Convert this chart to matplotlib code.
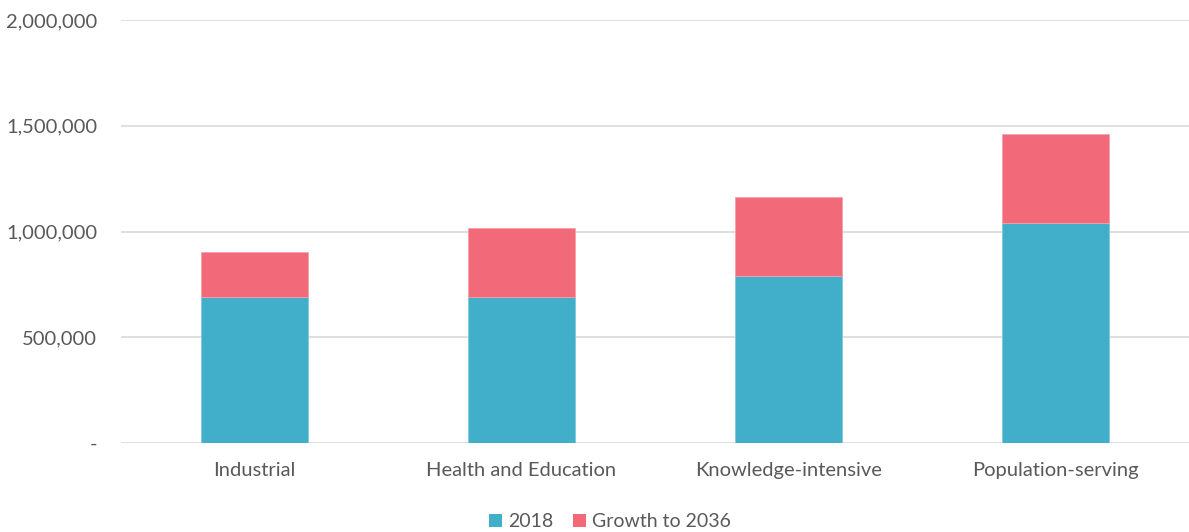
import matplotlib
matplotlib.use("Agg")
import matplotlib.pyplot as plt
from matplotlib.ticker import FuncFormatter
from matplotlib.patches import Patch

categories = ["Industrial", "Health and Education", "Knowledge-intensive", "Population-serving"]
base_2018 = [689000, 692000, 790000, 1042000]
growth_2036 = [213000, 325000, 372000, 419000]
series_names = ["2018", "Growth to 2036"]
yticks = [0, 500000, 1000000, 1500000, 2000000]

c_base = "#41AFC9"
c_growth = "#F26A7A"
txt = "#595959"

plt.rcParams['font.family'] = ['Lato', 'DejaVu Sans']

fig = plt.figure(figsize=(11.89, 5.32), dpi=100)
ax = fig.add_axes([121/1189, 89/532, 1 - 121/1189, (443-20)/532])

x = list(range(len(categories)))
w = 0.40
ax.bar(x, base_2018, width=w, color=c_base, edgecolor="#7FCBDC", linewidth=0.6, zorder=3)
ax.bar(x, growth_2036, width=w, bottom=base_2018, color=c_growth, edgecolor="#F5A0AA", linewidth=0.6, zorder=3)

ax.set_xlim(-0.5, 3.5)
ax.set_ylim(0, 2000000)
ax.set_yticks(yticks)
ax.yaxis.set_major_formatter(FuncFormatter(lambda v, p: "-" if v == 0 else f"{int(v):,}"))
ax.set_xticks(x)
ax.set_xticklabels(categories)
ax.grid(axis="y", color="#D9D9D9", linewidth=1.2, zorder=0)
for s in ax.spines.values():
    s.set_visible(False)
ax.tick_params(axis="both", length=0, colors=txt, labelsize=14.5)
ax.tick_params(axis="y", pad=17)
ax.tick_params(axis="x", pad=14)
for lab in ax.get_yticklabels() + ax.get_xticklabels():
    lab.set_color(txt)

handles = [Patch(facecolor=c_base), Patch(facecolor=c_growth)]
fig.legend(handles, series_names, loc="lower center", bbox_to_anchor=(0.513, -0.03), ncol=2,
           frameon=False, fontsize=14, labelcolor=txt, handlelength=0.7, handleheight=0.7,
           handletextpad=0.3, columnspacing=1.0)

fig.savefig("out.png", dpi=100)
